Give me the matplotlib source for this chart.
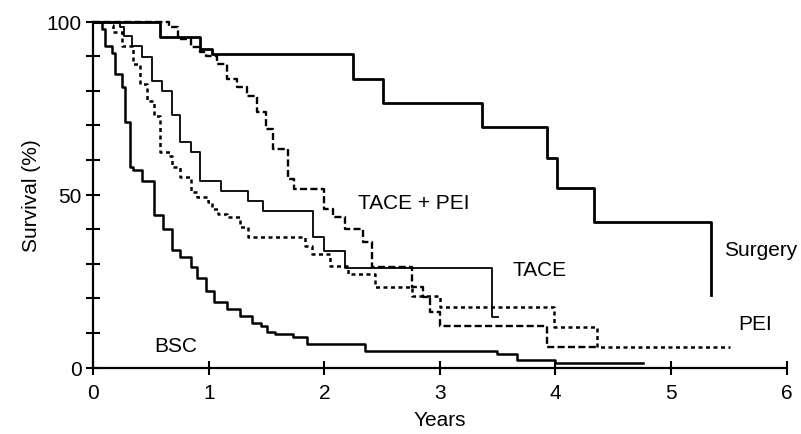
import matplotlib
matplotlib.use("Agg")
import matplotlib.pyplot as plt
from matplotlib.ticker import MultipleLocator

plt.rcParams['font.family'] = ['Liberation Sans', 'DejaVu Sans']

# Kaplan-Meier step data: time of each step (years) and survival after it (%)
surgery_t = [0, 0.58, 0.92, 1.03, 2.25, 2.51, 3.36, 3.93, 4.01, 4.33, 5.35]
surgery_s = [100, 95.5, 92, 90.5, 83.4, 76.4, 69.5, 60.5, 52, 42, 21]

tacepei_t = [0, 0.65, 0.73, 0.84, 0.92, 0.97, 1.07, 1.16, 1.24, 1.33, 1.42, 1.49,
             1.55, 1.68, 1.74, 2.00, 2.07, 2.18, 2.33, 2.41, 2.76, 2.85, 2.91,
             3.00, 3.93, 4.36]
tacepei_s = [100, 98.4, 95, 92.7, 91.2, 90, 87.7, 83.4, 81.1, 78.5, 73.8, 68.9,
             63.2, 54.5, 51.6, 45.8, 43.5, 40.1, 36.3, 29, 23.3, 20.4, 16.1,
             12, 6, 6]

tace_t = [0, 0.23, 0.26, 0.33, 0.42, 0.51, 0.59, 0.68, 0.75, 0.84, 0.92, 1.10,
          1.34, 1.47, 1.90, 2.00, 2.18, 3.45, 3.50]
tace_s = [100, 98.4, 95.8, 92.9, 89.7, 82.8, 79.9, 73, 65.2, 62.3, 53.9, 51,
          48.2, 45.3, 37.7, 33.7, 28.8, 14.6, 14.6]

pei_t = [0, 0.16, 0.17, 0.25, 0.34, 0.40, 0.46, 0.52, 0.58, 0.66, 0.68, 0.75,
         0.84, 0.90, 0.99, 1.03, 1.08, 1.16, 1.27, 1.34, 1.83, 1.89, 2.05,
         2.20, 2.44, 2.76, 3.00, 3.99, 4.36, 5.51]
pei_s = [100, 99, 97, 93, 87.7, 82, 77, 72.7, 62.3, 61.2, 57.9, 55,
         50.7, 49.3, 47.8, 45.8, 44.3, 43.4, 40.6, 37.7, 35.1, 32.8, 29.4,
         27, 23.3, 20.7, 17.5, 11.7, 5.9, 5.9]

bsc_t = [0, 0.07, 0.10, 0.16, 0.19, 0.25, 0.27, 0.32, 0.34, 0.42, 0.52, 0.60,
         0.68, 0.75, 0.84, 0.90, 0.97, 1.04, 1.16, 1.27, 1.37, 1.45, 1.50,
         1.57, 1.73, 1.85, 2.35, 3.49, 3.67, 4.00, 4.76]
bsc_s = [100, 98, 93, 91, 85, 81, 71, 58, 57, 54, 44, 40,
         34, 32, 29, 26, 22, 19, 17, 15, 13, 12, 10.3,
         9.7, 8.9, 6.8, 4.8, 3.9, 2.2, 1.3, 1.3]

labels = ['Surgery', 'TACE + PEI', 'TACE', 'PEI', 'BSC']
label_pos = [(5.78, 34), (2.77, 47.8), (3.86, 28.4), (5.73, 12.7), (0.71, 6.5)]

fig = plt.figure(figsize=(8.01, 4.35), dpi=100)
ax = fig.add_axes([0.1167, 0.1526, 0.8652, 0.7954])

ax.step(surgery_t, surgery_s, where='post', color='black', lw=2.0, clip_on=False)
ax.step(tacepei_t, tacepei_s, where='post', color='black', lw=1.7,
        dashes=(3, 1.4), clip_on=False)
ax.step(tace_t, tace_s, where='post', color='black', lw=1.3, clip_on=False)
ax.step(pei_t, pei_s, where='post', color='black', lw=1.8,
        dashes=(1.6, 1.4), clip_on=False)
ax.step(bsc_t, bsc_s, where='post', color='black', lw=1.8, clip_on=False)

for lab, (x, y) in zip(labels, label_pos):
    ax.text(x, y, lab, fontsize=15, ha='center', va='center')

ax.set_xlim(0, 6)
ax.set_ylim(0, 100)
ax.spines['top'].set_visible(False)
ax.spines['right'].set_visible(False)
ax.spines['left'].set_linewidth(1.6)
ax.spines['bottom'].set_linewidth(1.6)

ax.xaxis.set_major_locator(MultipleLocator(1))
ax.yaxis.set_major_locator(MultipleLocator(50))
ax.yaxis.set_minor_locator(MultipleLocator(10))
ax.tick_params(which='both', direction='inout', length=10, width=1.5,
               labelsize=15, color='black')
ax.tick_params(axis='x', pad=6)

ax.set_xlabel('Years', fontsize=15, labelpad=6)
ax.set_ylabel('Survival (%)', fontsize=15, labelpad=4)

fig.savefig('out.png', dpi=100)
